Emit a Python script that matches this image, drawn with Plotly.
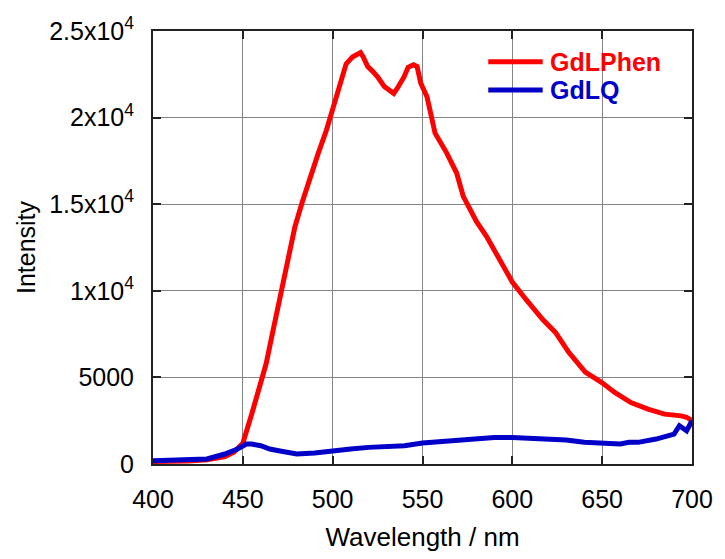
import plotly.graph_objects as go

# Emission spectra (wavelength in nm, intensity in counts)
phen_wl = [400, 410, 420, 430, 440, 445, 450, 455, 460, 463, 466, 470, 473, 476,
           479, 483, 488, 492, 496.6, 500, 504, 507.5, 511, 513, 515.5, 517,
           519.5, 522, 525, 528.7, 531, 534, 536, 539.7, 542, 545, 547, 549,
           552.5, 557, 563.5, 569, 572.7, 580, 585.6, 591, 600, 607.6, 616.8,
           624, 631.4, 640.6, 649.8, 657, 666, 675.5, 684.7, 694, 697, 700]
phen_int = [150, 150, 170, 240, 430, 680, 1200, 2900, 4700, 5800, 7300, 9300,
            10700, 12200, 13700, 15100, 16800, 17950, 19300, 20450, 21800,
            23100, 23500, 23600, 23750, 23500, 22950, 22700, 22350, 21800,
            21600, 21400, 21700, 22350, 22900, 23050, 22950, 22000, 21200,
            19100, 17950, 16800, 15450, 14000, 13150, 12200, 10500, 9500, 8350,
            7600, 6450, 5300, 4700, 4130, 3550, 3170, 2880, 2780, 2700, 2500]

q_wl = [400, 410, 420, 430, 440, 447, 452, 455, 460, 465, 470, 480, 490, 500,
        510, 520, 530, 540, 550, 560, 570, 580, 590, 600, 610, 620, 630, 640,
        650, 660, 665, 670, 680, 690, 693, 697, 700]
q_int = [190, 200, 230, 290, 576, 864, 1150, 1150, 1056, 864, 768, 576, 634,
         768, 864, 960, 1000, 1056, 1210, 1285, 1400, 1478, 1535, 1535, 1478,
         1440, 1382, 1250, 1190, 1152, 1250, 1250, 1440, 1728, 2208, 1920, 2494]

series_names = ["GdLPhen", "GdLQ"]

y_ticks = [0, 5000, 10000, 15000, 20000, 25000]
y_tick_text = ["0", "5000", "1x10<sup>4</sup>", "1.5x10<sup>4</sup>",
               "2x10<sup>4</sup>", "2.5x10<sup>4</sup>"]

RED = "#ff0000"
BLUE = "#0000c8"
FONT = "Liberation Sans, Arial, sans-serif"
colors = [RED, BLUE]

fig = go.Figure()
fig.add_trace(go.Scatter(x=phen_wl, y=phen_int, mode="lines",
                         line=dict(color=RED, width=5), name=series_names[0]))
fig.add_trace(go.Scatter(x=q_wl, y=q_int, mode="lines",
                         line=dict(color=BLUE, width=5), name=series_names[1]))

# Legend key drawn inside the plot frame (paper coordinates)
key_x0, key_x1, key_text_x = 0.622, 0.723, 0.733
key_rows = [0.929, 0.864]
for name, color, ky in zip(series_names, colors, key_rows):
    fig.add_shape(type="line", xref="paper", yref="paper",
                  x0=key_x0, x1=key_x1, y0=ky, y1=ky,
                  line=dict(color=color, width=5))
    fig.add_annotation(xref="paper", yref="paper", x=key_text_x, y=ky,
                       xanchor="left", yanchor="middle", showarrow=False,
                       text=f"<b>{name}</b>",
                       font=dict(family=FONT, size=25, color=color))

axis_common = dict(
    showgrid=True, gridcolor="#858585", gridwidth=1.3,
    showline=True, linecolor="#222222", linewidth=2, mirror="ticks",
    ticks="inside", ticklen=8, tickwidth=1.5, tickcolor="#222222",
    zeroline=False, tickfont=dict(family=FONT, size=25, color="black"),
)

fig.update_xaxes(
    range=[400, 700], dtick=50, tick0=400,
    ticklabelstandoff=12,
    title=dict(text="Wavelength / nm", font=dict(family=FONT, size=26, color="black"),
               standoff=16),
    **axis_common)
fig.update_yaxes(
    range=[0, 25000], tickvals=y_ticks, ticktext=y_tick_text,
    ticklabelstandoff=12,
    title=dict(text="Intensity", font=dict(family=FONT, size=25, color="black"),
               standoff=6),
    **axis_common)

fig.update_layout(
    width=725, height=559,
    margin=dict(l=153, r=27, t=31, b=94),
    plot_bgcolor="white", paper_bgcolor="white",
    font=dict(family=FONT, color="black"),
    showlegend=False,
)

fig.write_html("out.html")
